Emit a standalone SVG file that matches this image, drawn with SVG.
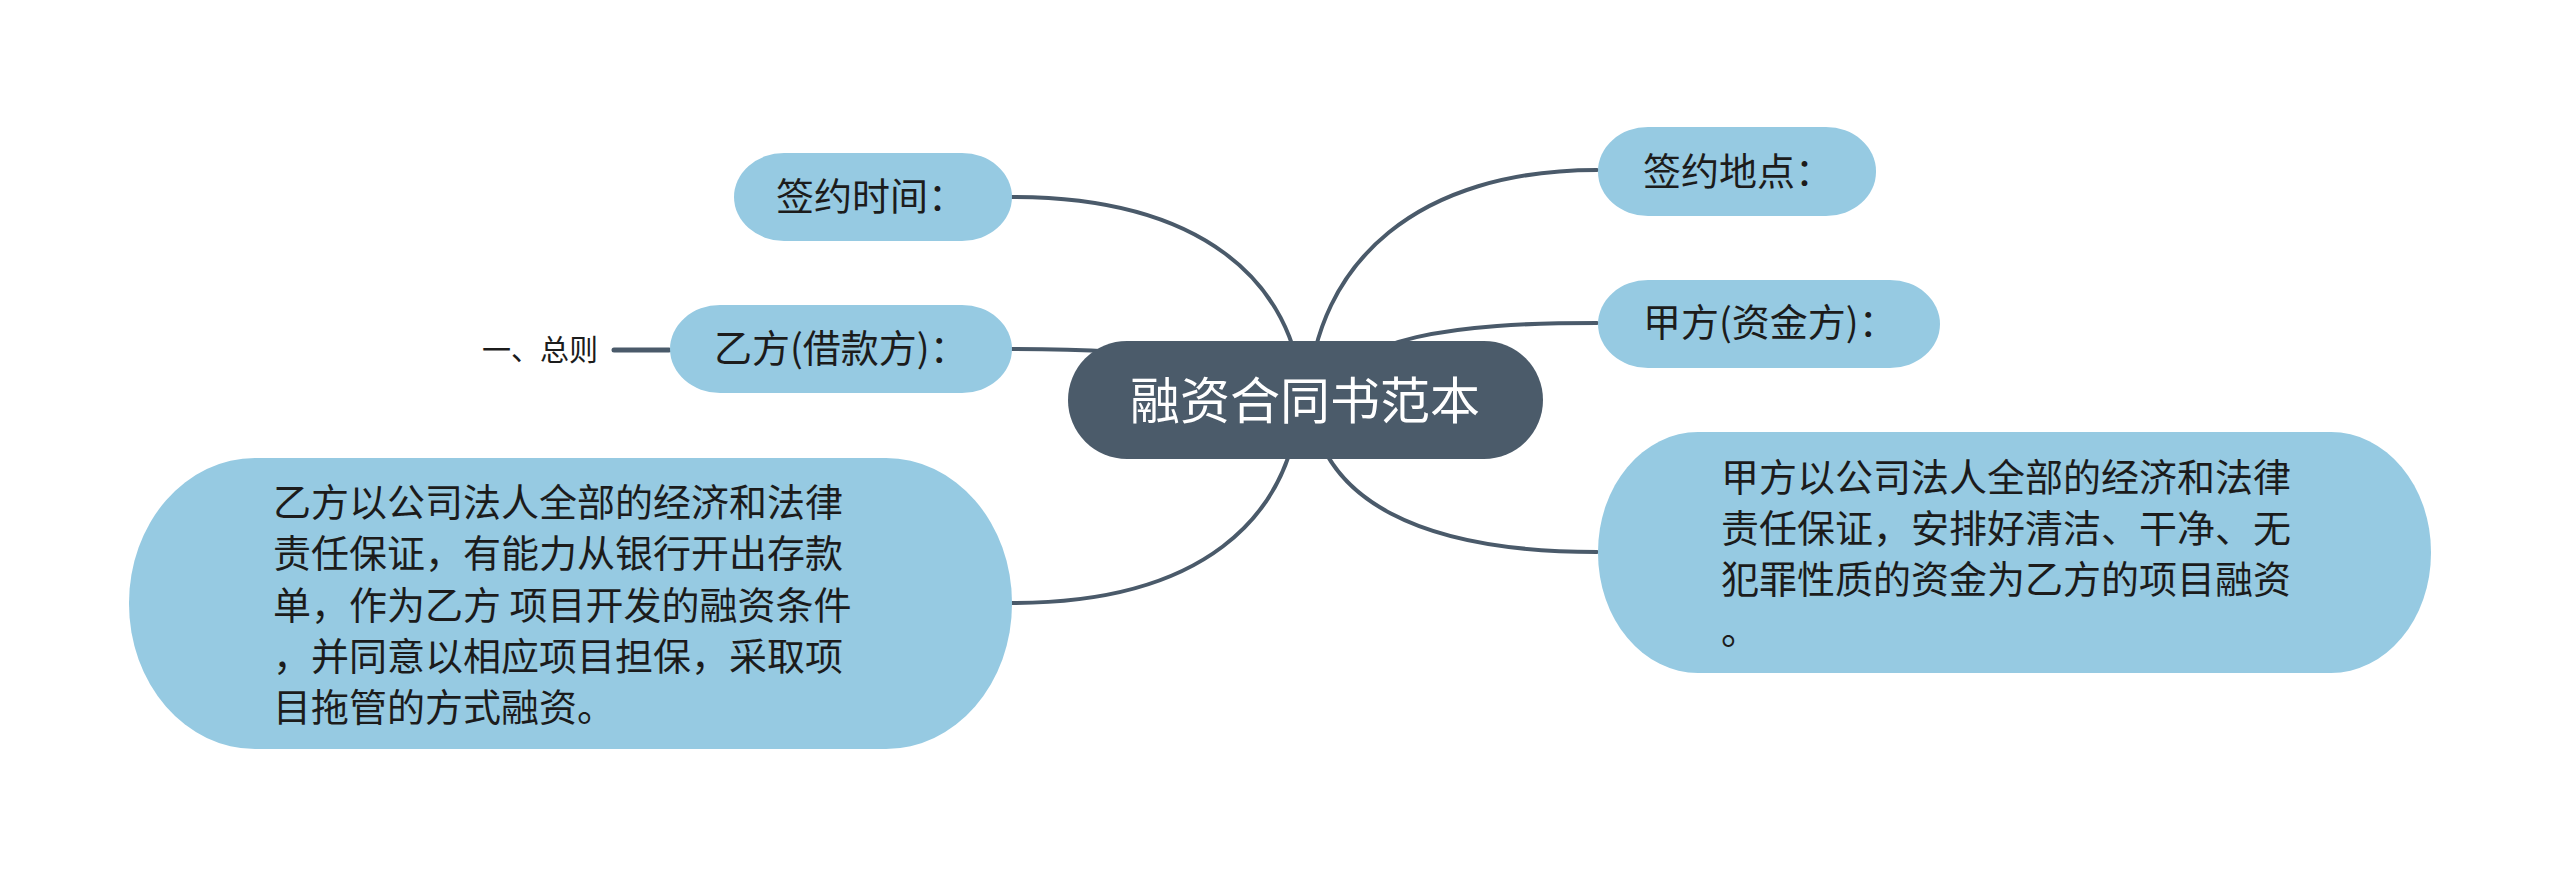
<svg xmlns="http://www.w3.org/2000/svg" width="2560" height="877" viewBox="0 0 2560 877">
<style>
.bg{fill:#ffffff}
.conn{fill:none;stroke:#4a5a6a;stroke-width:4;stroke-linecap:round}
.leaf{fill:#96cae2}
.root{fill:#4b5b6a}
.t{font-family:"Noto Sans CJK SC","Noto Sans",sans-serif;fill:#1c1c1c;font-size:38px}
.tr{font-family:"Noto Sans CJK SC","Noto Sans",sans-serif;fill:#ffffff;font-size:50px}
.ts{font-family:"Noto Sans CJK SC","Noto Sans",sans-serif;fill:#1c1c1c;font-size:29px}
</style>
<rect class="bg" x="0" y="0" width="2560" height="877"/>
<g id="connectors">
<path class="conn" d="M1012,197 C1200,197 1295,280 1303,400"/>
<path class="conn" d="M1597,170 C1420,170 1315,260 1308,400"/>
<path class="conn" d="M1597,323 C1450,323 1360,335 1305,400"/>
<path class="conn" d="M1012,349 C1150,349 1250,360 1305,400"/>
<path class="conn" d="M1012,603 C1200,603 1290,520 1300,400"/>
<path class="conn" d="M1597,552 C1420,552 1320,500 1310,400"/>
<path class="conn" d="M614,350 L669,350" style="stroke-width:5"/>
</g>
<g id="root">
<rect class="root" x="1068" y="341" width="475" height="118" rx="59" ry="59"/>
<text class="tr" x="1305" y="419" text-anchor="middle">融资合同书范本</text>
</g>
<g id="node-qianyue-shijian">
<rect class="leaf" x="734" y="153" width="278" height="88" rx="50" ry="44"/>
<text class="t" x="776" y="210">签约时间：</text>
</g>
<g id="node-qianyue-didian">
<rect class="leaf" x="1598" y="127" width="278" height="89" rx="50" ry="44"/>
<text class="t" x="1643" y="185">签约地点：</text>
</g>
<g id="node-jiafang">
<rect class="leaf" x="1598" y="280" width="342" height="88" rx="50" ry="44"/>
<text class="t" x="1643" y="336">甲方(资金方)：</text>
</g>
<g id="node-yifang">
<rect class="leaf" x="670" y="305" width="342" height="88" rx="50" ry="44"/>
<text class="t" x="714" y="362">乙方(借款方)：</text>
</g>
<g id="node-zongze">
<text class="ts" x="482" y="361">一、总则</text>
</g>
<g id="node-yifang-detail">
<rect class="leaf" x="129" y="458" width="883" height="291" rx="126" ry="145"/>
<text class="t" x="273" y="516">乙方以公司法人全部的经济和法律</text>
<text class="t" x="273" y="567">责任保证，有能力从银行开出存款</text>
<text class="t" x="273" y="619">单，作为乙方 项目开发的融资条件</text>
<text class="t" x="273" y="670">，并同意以相应项目担保，采取项</text>
<text class="t" x="273" y="721">目拖管的方式融资。</text>
</g>
<g id="node-jiafang-detail">
<rect class="leaf" x="1598" y="432" width="833" height="241" rx="100" ry="120"/>
<text class="t" x="1721" y="491">甲方以公司法人全部的经济和法律</text>
<text class="t" x="1721" y="542">责任保证，安排好清洁、干净、无</text>
<text class="t" x="1721" y="593">犯罪性质的资金为乙方的项目融资</text>
<text class="t" x="1721" y="644">。</text>
</g>
</svg>
